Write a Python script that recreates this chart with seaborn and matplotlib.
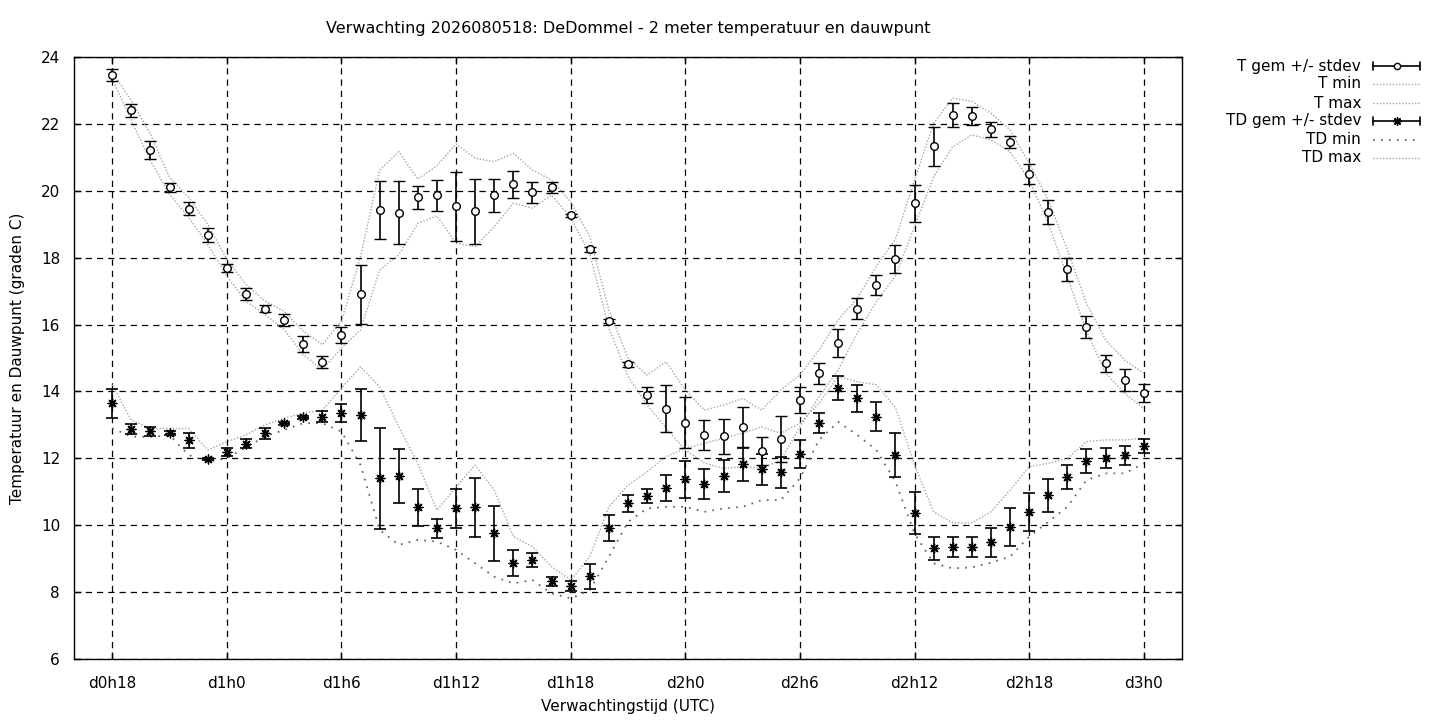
import numpy as np
import pandas as pd
import matplotlib
matplotlib.use("Agg")
import matplotlib.pyplot as plt
from matplotlib.lines import Line2D
import seaborn as sns

# ---------------- data (hours after d0h18) ----------------
hours = list(range(55))
tick_hours = [0, 6, 12, 18, 24, 30, 36, 42, 48, 54]
tick_labels = ["d0h18", "d1h0", "d1h6", "d1h12", "d1h18", "d2h0", "d2h6", "d2h12", "d2h18", "d3h0"]

t_mean = [23.46, 22.41, 21.22, 20.10, 19.47, 18.68, 17.68, 16.91, 16.48, 16.14,
          15.42, 14.88, 15.68, 16.90, 19.42, 19.34, 19.80, 19.86, 19.53, 19.39,
          19.86, 20.19, 19.95, 20.10, 19.27, 18.25, 16.11, 14.81, 13.89, 13.49,
          13.07, 12.70, 12.66, 12.93, 12.22, 12.58, 13.74, 14.54, 15.44, 16.48,
          17.18, 17.96, 19.62, 21.33, 22.26, 22.24, 21.84, 21.46, 20.50, 19.36,
          17.65, 15.92, 14.84, 14.33, 13.94]
t_std = [0.17, 0.19, 0.27, 0.13, 0.20, 0.21, 0.12, 0.18, 0.11, 0.17,
         0.24, 0.19, 0.24, 0.88, 0.86, 0.94, 0.34, 0.46, 1.04, 0.97,
         0.50, 0.41, 0.31, 0.17, 0.05, 0.08, 0.05, 0.08, 0.25, 0.70,
         0.76, 0.45, 0.52, 0.60, 0.43, 0.68, 0.39, 0.32, 0.42, 0.30,
         0.30, 0.42, 0.55, 0.58, 0.36, 0.26, 0.22, 0.18, 0.30, 0.36,
         0.35, 0.33, 0.25, 0.33, 0.27]
t_min = [23.35, 22.10, 20.90, 19.90, 19.20, 18.40, 17.45, 16.70, 16.30, 15.85,
         15.10, 14.65, 15.30, 15.84, 17.63, 18.08, 19.03, 19.25, 18.43, 18.33,
         18.93, 19.63, 19.48, 19.87, 19.20, 18.10, 15.90, 14.45, 13.60, 12.90,
         12.25, 11.86, 11.70, 11.75, 11.70, 11.95, 12.94, 13.84, 14.64, 15.74,
         16.68, 17.45, 18.93, 20.42, 21.32, 21.67, 21.52, 21.17, 20.32, 19.03,
         17.43, 15.80, 14.55, 13.94, 13.49]
t_max = [23.55, 22.70, 21.70, 20.40, 19.80, 19.00, 17.95, 17.20, 16.70, 16.40,
         15.80, 15.40, 16.10, 18.03, 20.62, 21.17, 20.35, 20.75, 21.40, 20.97,
         20.87, 21.12, 20.62, 20.32, 19.67, 18.63, 16.43, 15.00, 14.49, 14.89,
         14.04, 13.44, 13.59, 13.79, 13.44, 14.04, 14.50, 15.24, 16.14, 16.78,
         17.75, 18.55, 20.32, 22.02, 22.77, 22.67, 22.32, 21.82, 20.82, 19.72,
         18.23, 16.63, 15.54, 14.94, 14.54]

td_mean = [13.64, 12.89, 12.81, 12.76, 12.54, 11.97, 12.18, 12.44, 12.75, 13.05,
           13.23, 13.25, 13.35, 13.29, 11.40, 11.47, 10.53, 9.91, 10.51, 10.53,
           9.76, 8.86, 8.95, 8.32, 8.17, 8.47, 9.91, 10.65, 10.87, 11.10,
           11.37, 11.22, 11.46, 11.82, 11.67, 11.58, 12.12, 13.05, 14.09, 13.79,
           13.25, 12.11, 10.36, 9.31, 9.34, 9.34, 9.49, 9.94, 10.39, 10.89,
           11.43, 11.91, 12.00, 12.09, 12.37]
td_std = [0.42, 0.15, 0.14, 0.05, 0.22, 0.03, 0.12, 0.14, 0.16, 0.05,
          0.05, 0.16, 0.27, 0.78, 1.52, 0.82, 0.56, 0.28, 0.58, 0.88,
          0.82, 0.39, 0.21, 0.14, 0.15, 0.37, 0.39, 0.25, 0.20, 0.39,
          0.56, 0.45, 0.48, 0.49, 0.46, 0.46, 0.42, 0.30, 0.36, 0.39,
          0.43, 0.66, 0.63, 0.35, 0.30, 0.30, 0.44, 0.57, 0.57, 0.50,
          0.36, 0.36, 0.30, 0.28, 0.21]
td_min = [12.90, 12.65, 12.64, 12.69, 12.10, 11.90, 12.00, 12.33, 12.65, 12.85,
          13.05, 13.05, 12.80, 11.80, 9.86, 9.41, 9.56, 9.51, 9.26, 8.86,
          8.46, 8.26, 8.36, 7.96, 7.81, 8.06, 9.06, 10.10, 10.50, 10.55,
          10.55, 10.40, 10.50, 10.55, 10.75, 10.75, 11.40, 12.55, 13.09, 12.70,
          12.25, 11.30, 9.75, 8.86, 8.71, 8.74, 8.88, 9.06, 9.66, 10.10,
          10.55, 11.35, 11.55, 11.55, 11.85]
td_max = [14.20, 13.14, 12.89, 12.89, 12.89, 12.25, 12.50, 12.70, 13.00, 13.20,
          13.35, 13.44, 14.10, 14.74, 14.14, 12.94, 11.85, 10.45, 11.15, 11.80,
          11.05, 9.66, 9.36, 8.76, 8.36, 9.06, 10.55, 11.20, 11.60, 12.05,
          12.30, 12.45, 12.60, 12.75, 12.94, 12.75, 13.05, 13.64, 14.45, 14.29,
          14.20, 13.52, 11.80, 10.40, 10.07, 10.07, 10.40, 11.05, 11.75, 11.85,
          12.00, 12.50, 12.55, 12.55, 12.60]

title = "Verwachting 2026080518: DeDommel - 2 meter temperatuur en dauwpunt"
xlabel = "Verwachtingstijd (UTC)"
ylabel = "Temperatuur en Dauwpunt (graden C)"
legend_labels = ["T gem +/- stdev", "T min", "T max", "TD gem +/- stdev", "TD min", "TD max"]

# ---------------- styling ----------------
sns.set_theme(style="white")
plt.rcParams["font.family"] = ["DejaVu Sans"]
plt.rcParams.update({"text.color": "black", "axes.labelcolor": "black",
                     "xtick.color": "black", "ytick.color": "black",
                     "axes.edgecolor": "black"})
FS = 11

W, H = 1440, 720
fig = plt.figure(figsize=(14.4, 7.2), dpi=100)
L, R, T, B = 74, 1182, 57, 659
ax = fig.add_axes([L / W, 1 - B / H, (R - L) / W, (B - T) / H])

line_df = pd.concat([
    pd.DataFrame({"hour": hours, "value": t_min, "series": "T min"}),
    pd.DataFrame({"hour": hours, "value": t_max, "series": "T max"}),
    pd.DataFrame({"hour": hours, "value": td_min, "series": "TD min"}),
    pd.DataFrame({"hour": hours, "value": td_max, "series": "TD max"}),
], ignore_index=True)

fine = "#a6a6a6"
coarse = "#606060"
palette = {"T min": fine, "T max": fine, "TD min": coarse, "TD max": fine}
dashes = {"T min": (1, 1.3), "T max": (1, 1.3), "TD min": (1, 3.6), "TD max": (1, 1.3)}

for name in ["T min", "T max", "TD max", "TD min"]:
    sub = line_df[line_df["series"] == name]
    lw = 1.25 if name == "TD min" else 1.0
    sns.lineplot(data=sub, x="hour", y="value", color=palette[name], linewidth=lw,
                 estimator=None, legend=False, ax=ax, dashes=False)
    ax.lines[-1].set_dashes(dashes[name])

ax.errorbar(hours, t_mean, yerr=t_std, fmt="o", mfc="white", mec="black", ms=5.5,
            mew=1.0, ecolor="black", elinewidth=1.2, capsize=4, capthick=1.2, zorder=5)
ax.errorbar(hours, td_mean, yerr=td_std, fmt="none", ecolor="black", elinewidth=1.2,
            capsize=4, capthick=1.2, zorder=5)
sns.scatterplot(x=hours, y=td_mean, marker=(8, 2, 0), s=40, color="black",
                linewidth=1.0, ax=ax, zorder=6, legend=False)
ax.collections[-1].set_edgecolor("black")

ax.set_xlim(-2, 56)
ax.set_ylim(6, 24)
ax.set_xticks(tick_hours)
ax.set_xticklabels(tick_labels)
ax.set_yticks(np.arange(6, 25, 2))
ax.set_yticklabels([str(v) for v in range(6, 25, 2)])
ax.tick_params(axis="both", direction="in", length=5, width=1, colors="black",
               labelsize=FS, top=True, right=True, bottom=True, left=True)
ax.tick_params(axis="x", pad=12)
ax.tick_params(axis="y", pad=10)
ax.grid(True, which="major", color="black", linestyle=(0, (5, 4)), linewidth=0.9)
for s in ax.spines.values():
    s.set_color("black")
    s.set_linewidth(1.0)
ax.set_xlabel("")
ax.set_ylabel("")

fig.text(628 / W, 1 - 29 / H, title, ha="center", va="center", fontsize=11.5, color="black")
fig.text(628 / W, 1 - 706 / H, xlabel, ha="center", va="center", fontsize=FS, color="black")
fig.text(18 / W, 1 - 358 / H, ylabel, ha="center", va="center", rotation=90, fontsize=FS,
         color="black")

# ---------------- legend (gnuplot style) ----------------
rows = [66, 84, 103, 121, 140, 158]
tx, x0, x1 = 1361, 1373, 1420
def fx(x): return x / W
def fy(y): return 1 - y / H
for i, (lab, y) in enumerate(zip(legend_labels, rows)):
    fig.text(fx(tx), fy(y), lab, ha="right", va="center", fontsize=FS, color="black")
    if i in (0, 3):
        fig.add_artist(Line2D([fx(x0), fx(x1)], [fy(y), fy(y)], color="black", lw=1.2,
                              transform=fig.transFigure))
        for xc in (x0, x1):
            fig.add_artist(Line2D([fx(xc), fx(xc)], [fy(y - 4), fy(y + 4)], color="black",
                                  lw=1.2, transform=fig.transFigure))
        if i == 0:
            fig.add_artist(Line2D([fx((x0 + x1) / 2)], [fy(y)], marker="o", ms=4.5, mfc="white",
                                  mec="black", mew=1.0, transform=fig.transFigure))
        else:
            fig.add_artist(Line2D([fx((x0 + x1) / 2)], [fy(y)], marker=(8, 2, 0), ms=6,
                                  color="black", mew=1.0, transform=fig.transFigure))
    else:
        name = lab
        lw = 1.25 if name == "TD min" else 1.0
        ln = Line2D([fx(x0), fx(x1)], [fy(y), fy(y)], color=palette[name], lw=lw,
                    transform=fig.transFigure)
        ln.set_dashes(dashes[name])
        fig.add_artist(ln)

fig.savefig("out.png", dpi=100, facecolor="white")
